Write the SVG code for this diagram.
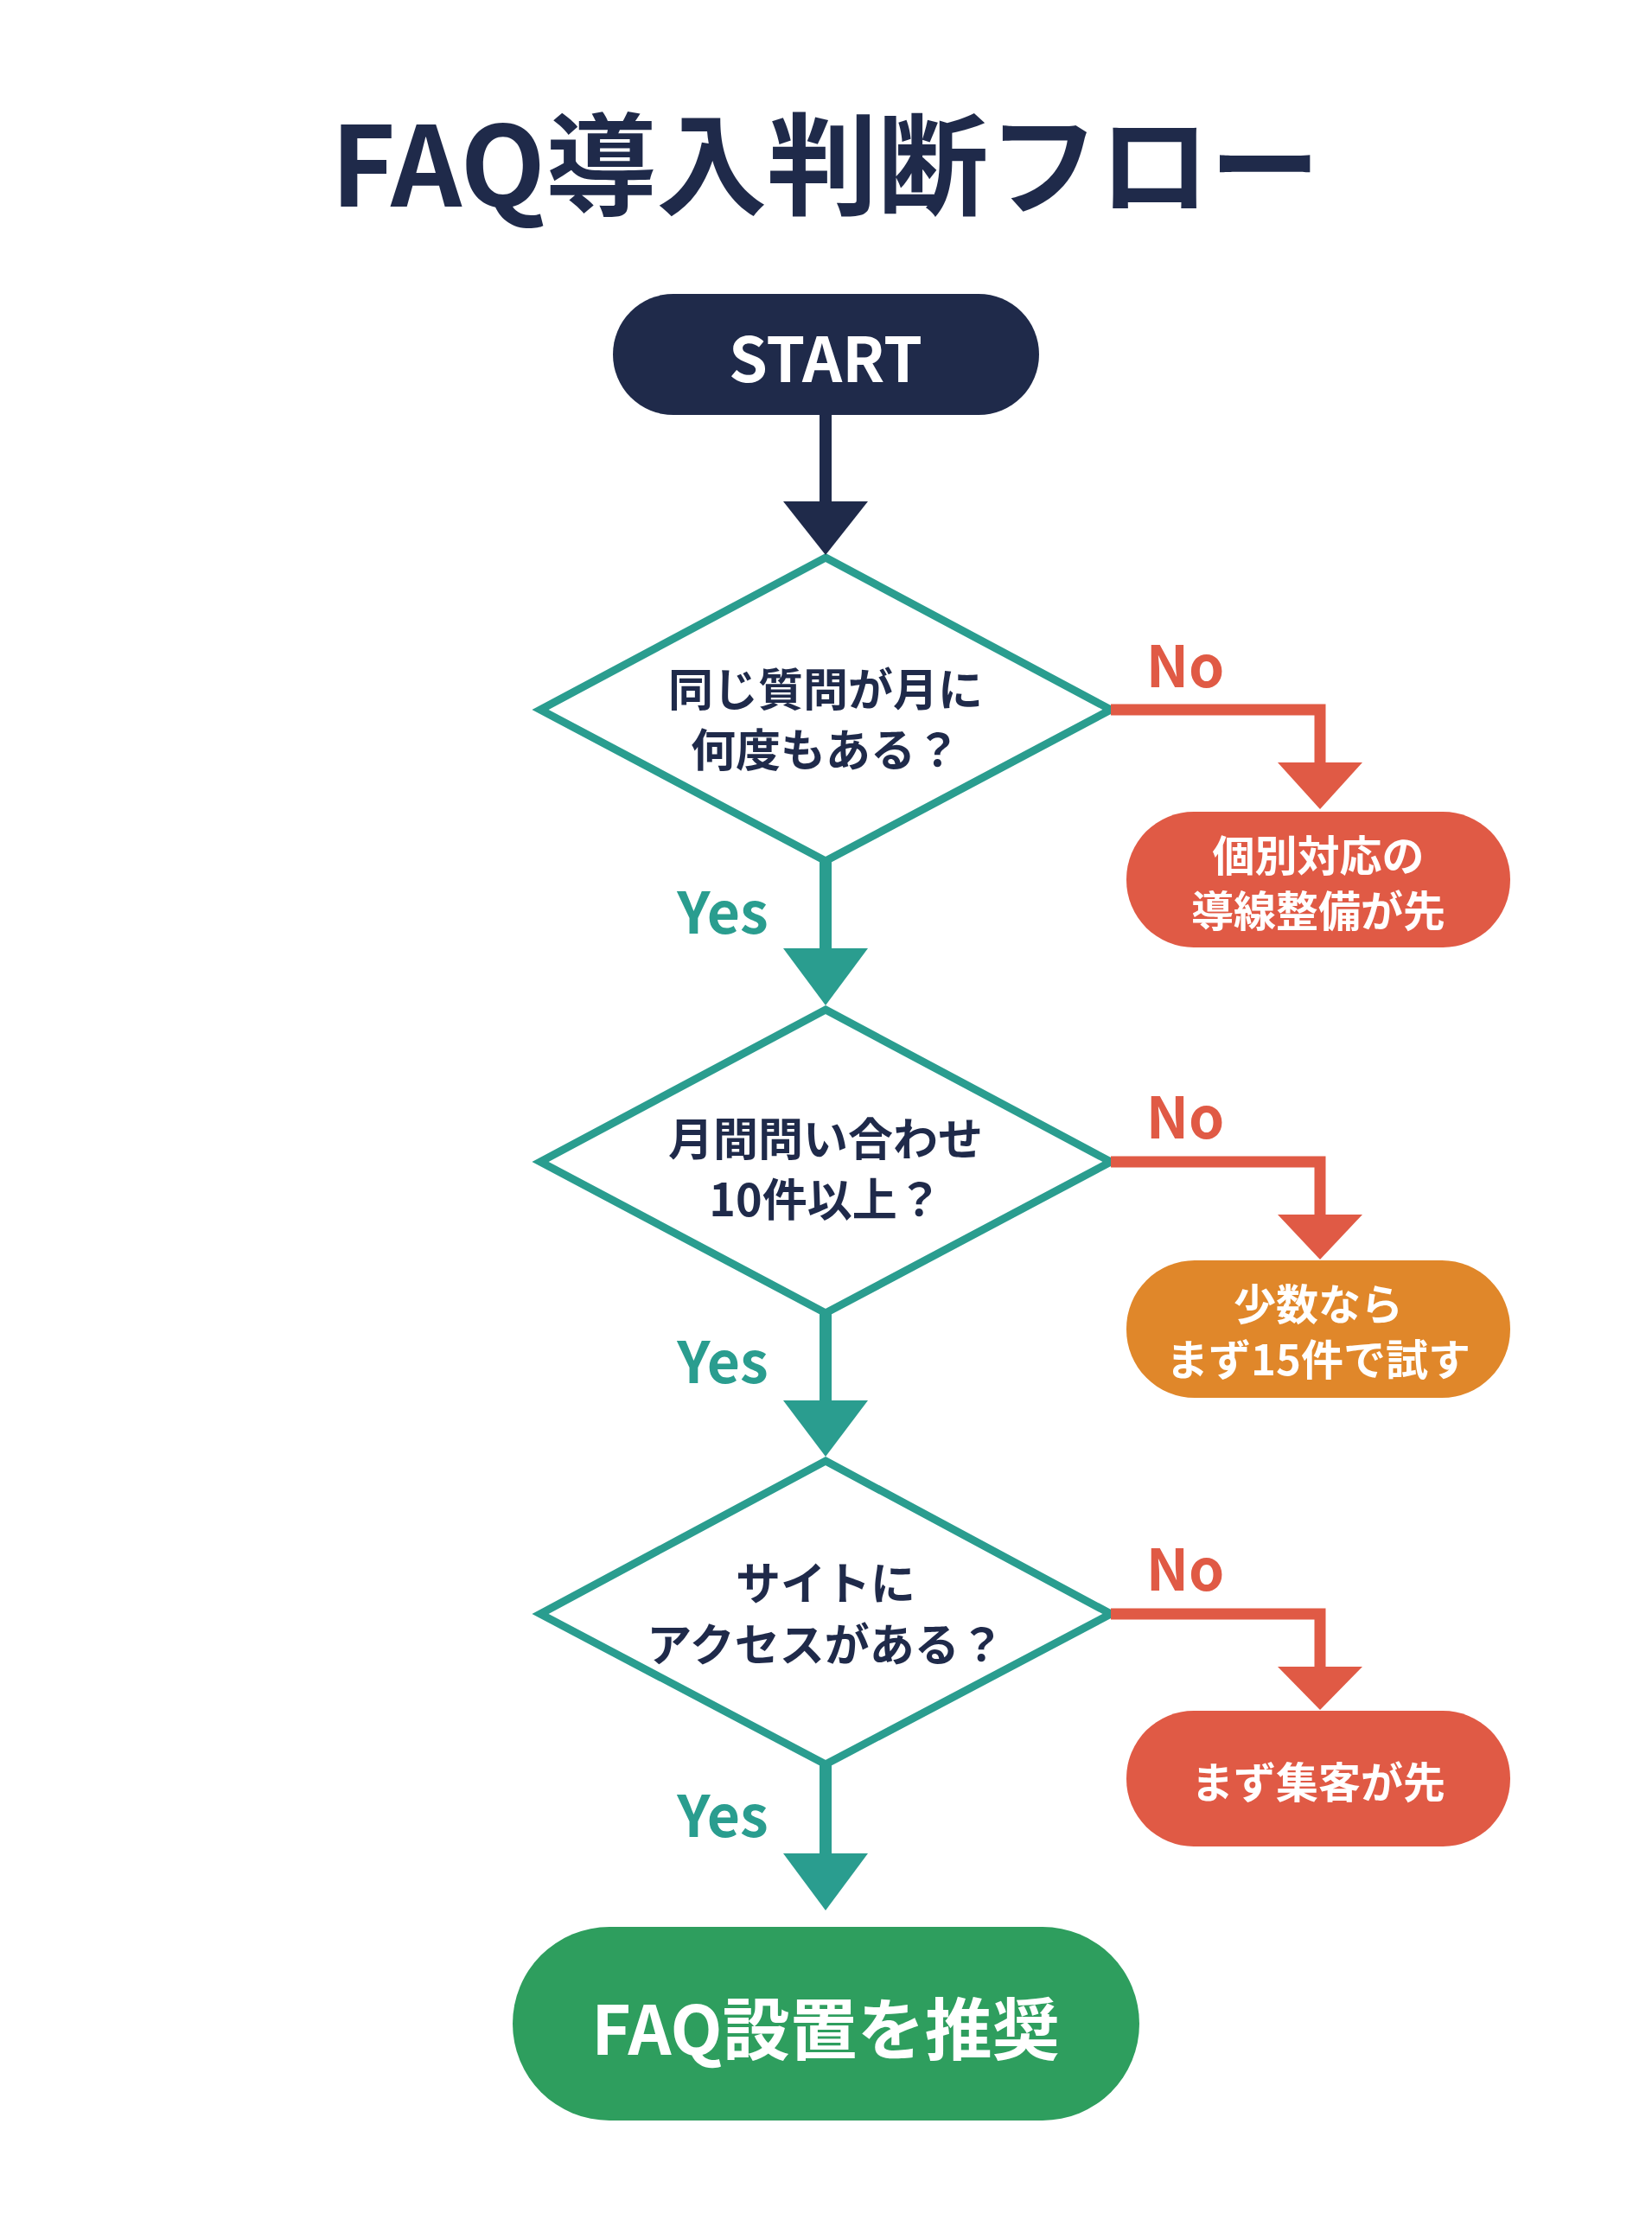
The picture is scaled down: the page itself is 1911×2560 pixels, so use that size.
<svg xmlns="http://www.w3.org/2000/svg" width="1911" height="2560" viewBox="0 0 1911 2560">
<style>
text{font-family:"Noto Sans CJK JP","Noto Sans",sans-serif;font-weight:700;text-anchor:middle;dominant-baseline:central}
.d{fill:#fff;stroke:#2A9D8F;stroke-width:9;stroke-linejoin:miter}
.dt{fill:#1F2A4A;font-size:52px}
.no{fill:#E05A45;font-size:66px}
.yes{fill:#2A9D8F;font-size:66px}
.bt{fill:#fff;font-size:49px}
.teal{stroke:#2A9D8F;stroke-width:14;fill:none}
.red{stroke:#E05A45;stroke-width:13;fill:none}
</style>
<rect width="1911" height="2560" fill="#fff"/>
<text x="955" y="183" style="font-size:128px;fill:#1F2A4A">FAQ導入判断フロー</text>
<g id="start"><rect x="709" y="340" width="493" height="140" rx="70" fill="#1F2A4A"/><text x="955" y="410" style="font-size:72px;fill:#fff">START</text></g>
<g id="q1"><polygon class="d" points="955,645 1285,821 955,996 625,821"/><text class="dt" x="955" y="794">同じ質問が月に</text><text class="dt" x="955" y="864">何度もある？</text></g>
<g id="r1"><rect x="1303" y="939" width="444" height="157" rx="78" fill="#E05A45"/><text class="bt" x="1525" y="986">個別対応の</text><text class="bt" x="1525" y="1050">導線整備が先</text></g>
<g id="q2"><polygon class="d" points="955,1168 1285,1344 955,1519 625,1344"/><text class="dt" x="955" y="1314">月間問い合わせ</text><text class="dt" x="955" y="1384">10件以上？</text></g>
<g id="r2"><rect x="1303" y="1458" width="444" height="159" rx="79" fill="#E0872A"/><text class="bt" x="1525" y="1505">少数なら</text><text class="bt" x="1525" y="1569">まず15件で試す</text></g>
<g id="q3"><polygon class="d" points="955,1690 1285,1867 955,2041 625,1867"/><text class="dt" x="955" y="1828">サイトに</text><text class="dt" x="955" y="1899">アクセスがある？</text></g>
<g id="r3"><rect x="1303" y="1979" width="444" height="157" rx="78" fill="#E05A45"/><text class="bt" x="1525" y="2058">まず集客が先</text></g>
<g id="end"><rect x="593" y="2229" width="725" height="224" rx="112" fill="#2E9E5E"/><text x="955" y="2343" style="font-size:78px;fill:#fff">FAQ設置を推奨</text></g>
<g id="connectors">
<line x1="955" y1="480" x2="955" y2="582" stroke="#1F2A4A" stroke-width="14"/><polygon points="906,580 1004,580 955,642" fill="#1F2A4A"/>
<line class="teal" x1="955" y1="996" x2="955" y2="1100"/><polygon points="906,1097 1004,1097 955,1163" fill="#2A9D8F"/>
<line class="teal" x1="955" y1="1519" x2="955" y2="1623"/><polygon points="906,1620 1004,1620 955,1685" fill="#2A9D8F"/>
<line class="teal" x1="955" y1="2041" x2="955" y2="2147"/><polygon points="906,2144 1004,2144 955,2210" fill="#2A9D8F"/>
<polyline class="red" points="1285,821 1527,821 1527,885"/><polygon points="1478,882 1576,882 1527,936" fill="#E05A45"/>
<polyline class="red" points="1285,1344 1527,1344 1527,1408"/><polygon points="1478,1405 1576,1405 1527,1457" fill="#E05A45"/>
<polyline class="red" points="1285,1867 1527,1867 1527,1931"/><polygon points="1478,1928 1576,1928 1527,1978" fill="#E05A45"/>
<text class="no" x="1371" y="766">No</text><text class="no" x="1371" y="1288">No</text><text class="no" x="1371" y="1811">No</text>
<text class="yes" x="836" y="1051">Yes</text><text class="yes" x="836" y="1571">Yes</text><text class="yes" x="836" y="2096">Yes</text>
</g>
</svg>
